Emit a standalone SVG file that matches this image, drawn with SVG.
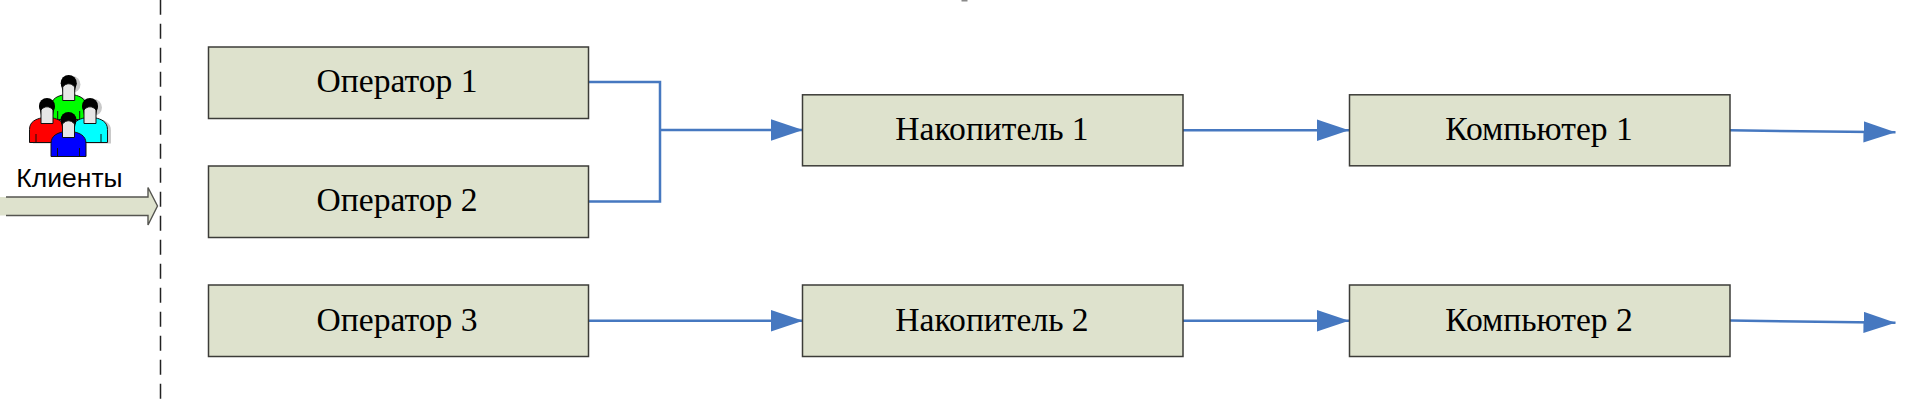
<svg xmlns="http://www.w3.org/2000/svg" xmlns:xlink="http://www.w3.org/1999/xlink" width="1923" height="401" viewBox="0 0 1923 401">
<style>
.box{fill:#DEE2CD;stroke:#3c3c38;stroke-width:1.5}
.lbl{font-family:"Liberation Serif","Times New Roman",serif;font-size:33.6px;fill:#000;text-anchor:middle}
.cli{font-family:"Liberation Sans",Arial,sans-serif;font-size:26.5px;fill:#000;text-anchor:middle}
.conn{fill:none;stroke:#4678C0;stroke-width:2.5}
.arr{marker-end:url(#head)}
</style>
<defs>
<marker id="head" markerUnits="userSpaceOnUse" markerWidth="33" markerHeight="22" refX="32" refY="11" orient="auto">
<path d="M0,0.3L32,11L0,21.7Z" fill="#4678C0"/>
</marker>
<path id="body" d="M-6,20C-10,21 -17.5,23 -17.5,31.5L-17.5,44.5L17.5,44.5L17.5,31.5C17.5,23 10,21 6,20Z"/>
<g id="head-part">
<circle cx="0" cy="8" r="8" fill="#000"/>
<path d="M-8,8L-6,17H6L8,8Z" fill="#000"/>
<path d="M-6,25.5V12C-4,9.5 -2,8.8 0,8.8C2,8.8 4,9.5 6,12V25.5Z" fill="#e6e6e6" stroke="#111" stroke-width="1"/>
<path d="M-11,36V44.5M11,36V44.5" stroke="#111" stroke-width="1" fill="none"/>
</g>
</defs>
<rect width="1923" height="401" fill="#fff"/>
<rect x="961.5" y="0" width="6" height="1.5" fill="#8a8a8a"/>
<line x1="160.5" y1="-0.3" x2="160.5" y2="401" stroke="#222" stroke-width="1.5" stroke-dasharray="15 9"/>
<g id="clients">
<g fill="#c9c9c9">
<use xlink:href="#body" href="#body" transform="translate(72,76)"/>
<use xlink:href="#body" href="#body" transform="translate(50.5,99)"/>
<use xlink:href="#body" href="#body" transform="translate(93.5,99)"/>
<circle cx="72" cy="84.5" r="8.5"/>
<circle cx="93.5" cy="107.5" r="8.5"/>
</g>
<g transform="translate(68.7,75)"><use xlink:href="#body" href="#body" fill="#00ff00" stroke="#111" stroke-width="1"/><use xlink:href="#head-part" href="#head-part"/></g>
<g transform="translate(47,98)"><use xlink:href="#body" href="#body" fill="#ff0000" stroke="#111" stroke-width="1"/><use xlink:href="#head-part" href="#head-part"/></g>
<g transform="translate(90,98)"><use xlink:href="#body" href="#body" fill="#00ffff" stroke="#111" stroke-width="1"/><use xlink:href="#head-part" href="#head-part"/></g>
<g transform="translate(68.5,112)"><use xlink:href="#body" href="#body" fill="#0000ff" stroke="#111" stroke-width="1"/><use xlink:href="#head-part" href="#head-part"/></g>
<text class="cli" x="69.5" y="186.5">Клиенты</text>
<path d="M0,197H148V187.5L157.5,206L148,225V215.5H0Z" fill="#DEE2CD"/>
<path d="M6,197H148V187.5L157.5,206L148,225V215.5H6" fill="none" stroke="#555550" stroke-width="1.4"/>
</g>
<g id="connectors">
<path class="conn" d="M589,82H660V201.5H589"/>
<path class="conn arr" d="M660,130H803"/>
<path class="conn arr" d="M589,320.7H803"/>
<path class="conn arr" d="M1183,130.3H1349"/>
<path class="conn arr" d="M1183,320.7H1349"/>
<path class="conn arr" d="M1730,130.3L1895.5,132.3"/>
<path class="conn arr" d="M1730,320.5L1895.5,322.8"/>
</g>
<g id="op1"><rect class="box" x="208.5" y="47" width="380" height="71.5"/><text class="lbl" x="397" y="92">Оператор 1</text></g>
<g id="op2"><rect class="box" x="208.5" y="166" width="380" height="71.5"/><text class="lbl" x="397" y="211">Оператор 2</text></g>
<g id="op3"><rect class="box" x="208.5" y="285" width="380" height="71.5"/><text class="lbl" x="397" y="331">Оператор 3</text></g>
<g id="nak1"><rect class="box" x="802.5" y="94.8" width="380.5" height="71"/><text class="lbl" x="992" y="140">Накопитель 1</text></g>
<g id="nak2"><rect class="box" x="802.5" y="285" width="380.5" height="71.5"/><text class="lbl" x="992" y="331">Накопитель 2</text></g>
<g id="comp1"><rect class="box" x="1349.5" y="94.8" width="380.5" height="71"/><text class="lbl" x="1539" y="140">Компьютер 1</text></g>
<g id="comp2"><rect class="box" x="1349.5" y="285" width="380.5" height="71.5"/><text class="lbl" x="1539" y="331">Компьютер 2</text></g>
</svg>
